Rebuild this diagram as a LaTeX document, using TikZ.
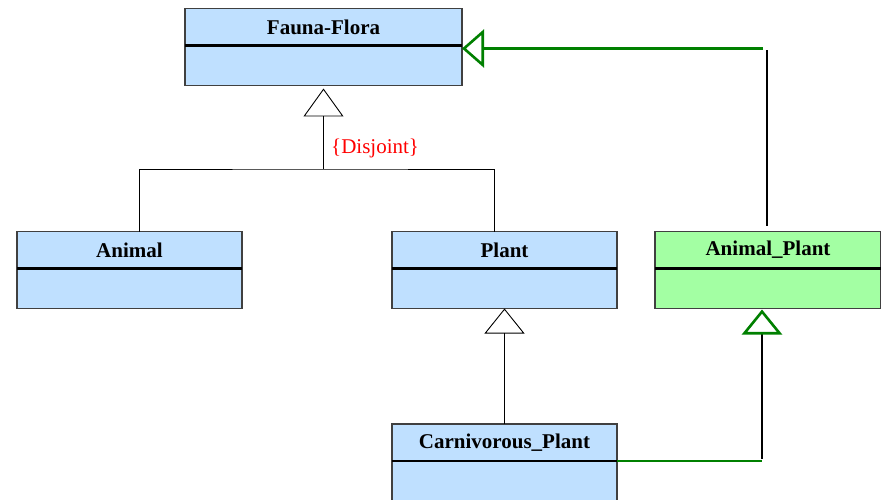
\documentclass[tikz,border=0pt]{standalone}
\usepackage{fontspec}
\setmainfont{Liberation Serif}
\usetikzlibrary{arrows.meta,positioning}
\definecolor{classblue}{HTML}{BFE0FF}
\definecolor{classgreen}{HTML}{A3FFA3}
\definecolor{realgreen}{HTML}{008000}
\definecolor{boxgray}{HTML}{404040}
\tikzset{
  classhead/.style={draw=boxgray,line width=1.3pt,fill=classblue,minimum width=277pt,
    minimum height=37pt,inner sep=0pt,outer sep=0pt,
    font=\fontsize{21}{24}\selectfont\bfseries},
  classbody/.style={classhead,minimum height=40pt,anchor=north},
  divider/.style={line width=2.4pt,black},
  gen/.style={line width=0.9pt,-{Triangle[open,length=25pt,width=40pt]}},
  realize/.style={line width=2.8pt,realgreen},
}
\begin{document}
\begin{tikzpicture}[x=1pt,y=-1pt]
  \useasboundingbox[fill=white] (0,0) rectangle (881,500);
  % classes
  \node[classhead] (fauna) at (323.5,27) {Fauna-Flora};
  \node[classbody] (faunab) at (fauna.south) {};
  \node[classhead,minimum width=225pt] (animal) at (129.5,250) {Animal};
  \node[classbody,minimum width=225pt] (animalb) at (animal.south) {};
  \node[classhead,minimum width=225pt] (plant) at (504.5,250) {Plant};
  \node[classbody,minimum width=225pt] (plantb) at (plant.south) {};
  \node[classhead,minimum width=226pt,fill=classgreen] (ap) at (768,250) {Animal\_Plant};
  \node[classbody,minimum width=226pt,fill=classgreen] (apb) at (ap.south) {};
  \node[classhead,minimum width=225pt] (carn) at (504.5,442.5) {Carnivorous\_Plant};
  \node[classbody,minimum width=225pt] (carnb) at (carn.south) {};
  \foreach \c in {fauna,animal,plant,ap,carn}
    \draw[divider] (\c.south west) -- (\c.south east);
  % disjoint generalization
  \coordinate (join) at (323.5,169);
  \draw[line width=0.9pt] ([xshift=9.5pt]animal.north) |- (join) -| ([xshift=-10.5pt]plant.north);
  \draw[gen,-{Triangle[open,length=28pt,width=40pt]}] (join) -- ([yshift=-3pt]faunab.south);
  \node[red,font=\fontsize{21}{24}\selectfont,anchor=west,inner sep=0pt] (disj) at (331,148) {\{Disjoint\}};
  \draw[gen] (carn.north) -- (plantb.south);
  % Animal_Plant links
  \coordinate (bendtop) at (763,48.5);
  \coordinate (bendbot) at (762,461);
  \draw[realize,-{Triangle[open,length=22pt,width=38pt,line width=2.6pt]}] (bendtop) -- ([yshift=-3pt]fauna.south east);
  \draw[line width=2.6pt] ([xshift=-1pt,yshift=6pt]ap.north) -- ([xshift=4pt,yshift=-1.5pt]bendtop);
  \draw[realize] (carn.south east) -- (bendbot);
  \draw[line width=2.6pt,-{Triangle[open,length=25pt,width=40pt,line width=2.6pt,realgreen]}]
    ([yshift=2pt]bendbot) -- ([xshift=-6pt,yshift=-1pt]apb.south);
\end{tikzpicture}
\end{document}
